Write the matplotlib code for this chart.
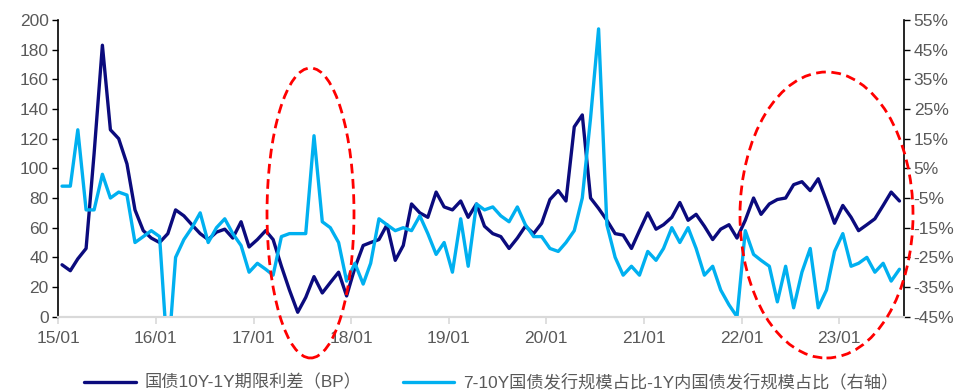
import matplotlib
matplotlib.use('Agg')
import matplotlib.pyplot as plt
import matplotlib.dates as mdates
from matplotlib.patches import Ellipse
import numpy as np
import pandas as pd

plt.rcParams['font.family'] = ['Liberation Sans', 'Noto Sans CJK SC']

# monthly data, Jan 2015 - Aug 2023 (plotted mid-month)
months = pd.date_range('2015-01-01', periods=104, freq='MS') + pd.Timedelta(days=14)

# 国债10Y-1Y期限利差 (BP), left axis
spread_bp = [
    35, 31, 39, 46, 110, 183, 126, 120, 103, 72,
    58, 53, 50, 56, 72, 68, 62, 56, 52, 57,
    59, 53, 64, 47, 52, 58, 52, 34, 18, 3,
    13, 27, 16, 23, 30, 14, 33, 48, 50, 52,
    62, 38, 48, 76, 70, 67, 84, 74, 72, 78,
    67, 76, 61, 56, 54, 46, 53, 61, 56, 63,
    79, 85, 78, 128, 136, 80, 73, 65, 56, 55,
    46, 58, 70, 59, 62, 67, 77, 65, 69, 61,
    52, 59, 62, 53, 65, 80, 69, 76, 79, 80,
    89, 91, 85, 93, 78, 63, 75, 67, 58, 62,
    66, 75, 84, 78,
]

# 7-10Y share minus <=1Y share (%), right axis
share_diff = [
    -1, -1, 18, -9, -9, 3, -5, -3, -4, -20,
    -18, -16, -18, -60, -25, -19, -15, -10, -20, -15,
    -12, -17, -21, -30, -27, -29, -31, -18, -17, -17,
    -17, 16, -13, -15, -20, -33, -27, -34, -27, -12,
    -14, -16, -15, -16, -11, -17, -24, -20, -30, -12,
    -28, -7, -9, -8, -11, -13, -8, -14, -18, -18,
    -22, -23, -20, -16, -5, 22, 52, -14, -25, -31,
    -28, -31, -23, -26, -22, -15, -20, -15, -22, -31,
    -28, -36, -41, -45, -16, -24, -26, -28, -40, -28,
    -42, -30, -22, -42, -36, -23, -17, -28, -27, -25,
    -30, -27, -33, -29,
]

left_ticks = np.arange(0, 201, 20)
right_ticks = np.arange(-45, 56, 10)
year_ticks = pd.date_range('2015-01-01', '2023-01-01', freq='YS')

label1 = '国债10Y-1Y期限利差（BP）'
label2 = '7-10Y国债发行规模占比-1Y内国债发行规模占比（右轴）'

dark = '#0b0b7d'
light = '#00b0f0'
grey = '#595959'

fig = plt.figure(figsize=(9.73, 3.9), dpi=100)
ax = fig.add_axes([58.3 / 973, 1 - 316.7 / 390, (904 - 58.3) / 973, (316.7 - 20) / 390])
ax2 = ax.twinx()

l1, = ax.plot(months, spread_bp, color=dark, lw=2.4, solid_joinstyle='round',
              solid_capstyle='round', label=label1)
l2, = ax2.plot(months, share_diff, color=light, lw=2.4, solid_joinstyle='round',
               solid_capstyle='round', label=label2)

ax.set_xlim(pd.Timestamp('2015-01-01'), pd.Timestamp('2023-09-01'))
ax.set_ylim(0, 200)
ax2.set_ylim(-45, 55)
ax.set_yticks(left_ticks)
ax2.set_yticks(right_ticks)
ax2.set_yticklabels(['%d%%' % v for v in right_ticks])
ax.set_xticks(year_ticks)
ax.xaxis.set_major_formatter(mdates.DateFormatter('%y/%m'))

for a in (ax, ax2):
    a.spines['top'].set_visible(False)
    a.spines['bottom'].set_color('#d9d9d9')
    a.spines['bottom'].set_linewidth(1.5)
    a.spines['left'].set_linewidth(1.2)
    a.spines['right'].set_linewidth(1.2)
ax.spines['right'].set_visible(False)
ax2.spines['left'].set_visible(False)

ax.tick_params(axis='y', direction='out', length=4, width=1, labelsize=12.5,
               labelcolor=grey, pad=3)
ax2.tick_params(axis='y', direction='out', length=4, width=1, labelsize=12.5,
                labelcolor=grey, pad=3)
ax.tick_params(axis='x', direction='out', length=5, width=1.2, color='#d9d9d9',
               labelsize=12.5, labelcolor=grey, pad=5)

# red dashed ellipses marking the two periods (figure pixel coords)
for cx, cy, w, h in [(310.5, 213, 87, 290), (826.5, 215, 173, 286)]:
    e = Ellipse((cx / 973, 1 - cy / 390), w / 973, h / 390, transform=fig.transFigure,
                fill=False, edgecolor='#ff0000', lw=2, ls=(0, (3.5, 2)), clip_on=False,
                zorder=10)
    fig.add_artist(e)

fig.legend(handles=[l1, l2], loc='center', bbox_to_anchor=(0.505, 0.02), ncol=2,
           frameon=False, fontsize=12.4, handlelength=3.0, columnspacing=2.4,
           handletextpad=0.5, labelcolor=grey)

fig.savefig('out.png', dpi=100)
